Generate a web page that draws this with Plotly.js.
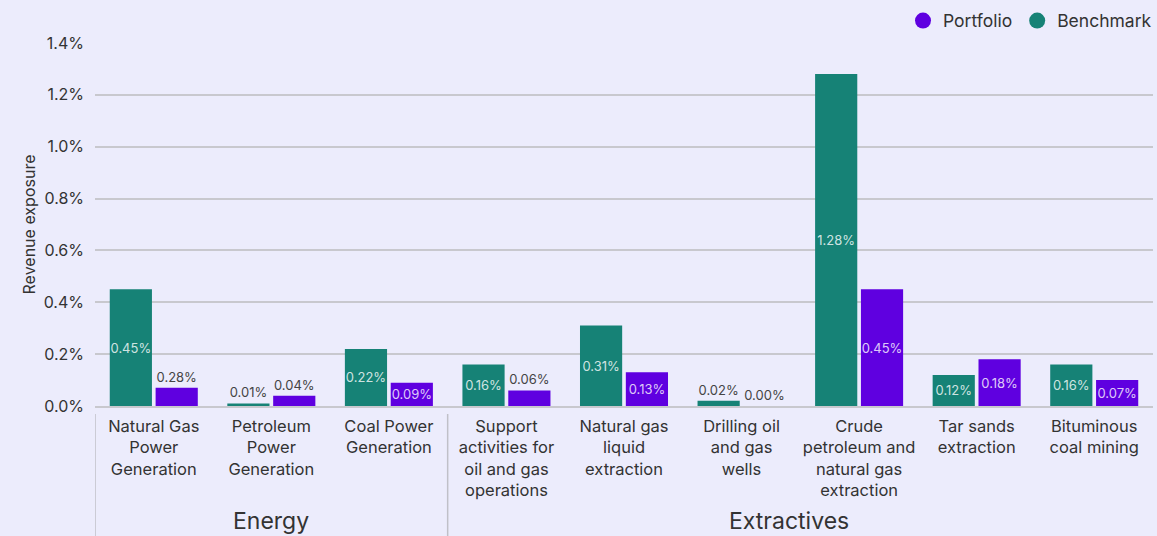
<!DOCTYPE html>
<html>
<head>
<meta charset="utf-8">
<script src="https://cdn.plot.ly/plotly-3.0.1.min.js"></script>
<style>html,body{margin:0;padding:0;background:#ECECFC;}#chart{width:1157px;height:536px;}</style>
</head>
<body>
<div id="chart"></div>
<script>
var categories = ["ng","pp","cp","sa","ngl","dr","cr","ts","bc"];
var tickLabels = ["Natural Gas<br>Power<br>Generation","Petroleum<br>Power<br>Generation","Coal Power<br>Generation","Support<br>activities for<br>oil and gas<br>operations","Natural gas<br>liquid<br>extraction","Drilling oil<br>and gas<br>wells","Crude<br>petroleum and<br>natural gas<br>extraction","Tar sands<br>extraction","Bituminous<br>coal mining"];
var groups = ["Energy","Extractives"];
var benchmarkValues = [0.45, 0.01, 0.22, 0.16, 0.31, 0.02, 1.28, 0.12, 0.16];
var portfolioValues = [0.07, 0.04, 0.09, 0.06, 0.13, 0.00, 0.45, 0.18, 0.10];
var benchmarkLabels = ["0.45%","0.01%","0.22%","0.16%","0.31%","0.02%","1.28%","0.12%","0.16%"];
var portfolioLabels = ["0.28%","0.04%","0.09%","0.06%","0.13%","0.00%","0.45%","0.18%","0.07%"];
var yTicks = [0, 0.2, 0.4, 0.6, 0.8, 1.0, 1.2, 1.4];
var yTickText = ["0.0%","0.2%","0.4%","0.6%","0.8%","1.0%","1.2%","1.4%"];

var TEAL = "#168276", PURPLE = "#5F00E0";
var FONT = "Inter, 'Open Sans', sans-serif";

function posFor(vals){ return vals.map(function(v){ return v < 0.085 ? "outside" : "inside"; }); }

function barTrace(name, vals, labels, color){
  return {type:"bar", name:name, x:categories, y:vals, text:labels,
   textposition:posFor(vals), insidetextanchor:"middle", textangle:0, constraintext:"none",
   cliponaxis:false,
   textfont:{size:13, family:FONT},
   insidetextfont:{size:13, family:FONT, color:"rgba(255,255,255,0.8)"},
   outsidetextfont:{size:13, family:FONT, color:"#444"},
   marker:{color:color}, showlegend:false, hoverinfo:"none"};
}

var traces = [
  barTrace("Benchmark", benchmarkValues, benchmarkLabels, TEAL),
  barTrace("Portfolio", portfolioValues, portfolioLabels, PURPLE),
  {type:"scatter", mode:"markers", name:"Benchmark", x:[null], y:[null],
   marker:{color:TEAL, size:16, symbol:"circle"}, hoverinfo:"none"},
  {type:"scatter", mode:"markers", name:"Portfolio", x:[null], y:[null],
   marker:{color:PURPLE, size:16, symbol:"circle"}, hoverinfo:"none"}
];

var layout = {
  width:1157, height:536,
  paper_bgcolor:"#ECECFC", plot_bgcolor:"#ECECFC",
  margin:{l:95, r:4, t:43, b:130},
  font:{family:FONT, color:"#333"},
  barmode:"group", bargap:0.22, bargroupgap:0.08,
  showlegend:true,
  legend:{orientation:"h", x:1.008, xanchor:"right", y:0.995, yanchor:"top", yref:"container",
          traceorder:"reversed", font:{size:17.5, color:"#333", family:FONT},
          bgcolor:"rgba(0,0,0,0)", itemwidth:30, tracegroupgap:0},
  xaxis:{type:"category", tickmode:"array", tickvals:categories, ticktext:tickLabels,
         tickfont:{size:16.5, color:"#333", family:FONT}, tickangle:0,
         showgrid:false, ticks:"", ticklabelstandoff:4,
         showline:true, linecolor:"#C8C8CE", linewidth:2, range:[-0.5, 8.5], fixedrange:true},
  yaxis:{range:[0, 1.4], tickmode:"array", tickvals:yTicks, ticktext:yTickText,
         tickfont:{size:16, color:"#333", family:FONT}, ticklabelstandoff:10,
         gridcolor:"#C8C8CE", gridwidth:2, zeroline:false,
         title:{text:"Revenue exposure", font:{size:16, color:"#333", family:FONT}, standoff:4},
         fixedrange:true},
  shapes:[
    {type:"line", xref:"x", yref:"paper", x0:-0.5, x1:-0.5, y0:-0.022, y1:-0.36, line:{color:"#C0C0C8", width:1.5}},
    {type:"line", xref:"x", yref:"paper", x0:2.5, x1:2.5, y0:-0.022, y1:-0.36, line:{color:"#C0C0C8", width:1.5}}
  ],
  annotations:[
    {text:groups[0], xref:"x", yref:"paper", x:1, y:-0.272, yanchor:"top", showarrow:false,
     font:{size:23, color:"#333", family:FONT}},
    {text:groups[1], xref:"x", yref:"paper", x:5.4, y:-0.272, yanchor:"top", showarrow:false,
     font:{size:23, color:"#333", family:FONT}}
  ]
};

Plotly.newPlot("chart", traces, layout, {displayModeBar:false, staticPlot:true});
</script>
</body>
</html>
